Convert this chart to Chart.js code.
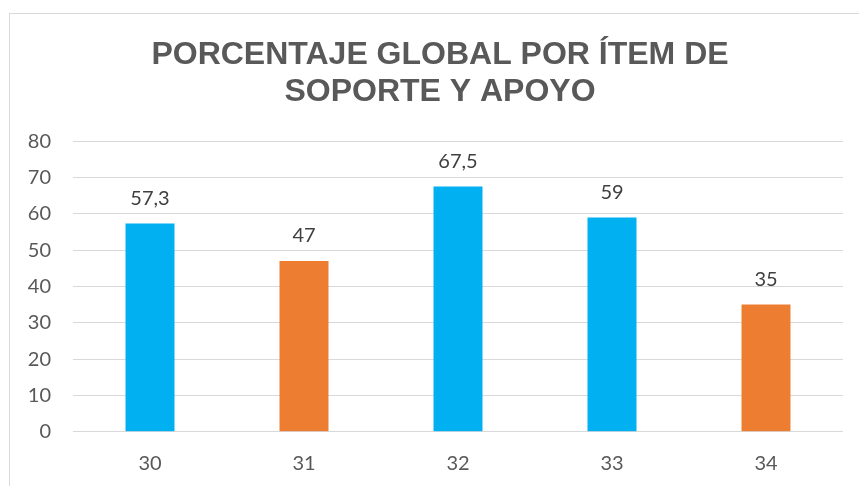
<!DOCTYPE html>
<html>
<head>
<meta charset="utf-8">
<script src="https://cdn.jsdelivr.net/npm/chart.js@4/dist/chart.umd.min.js"></script>
<style>
  html, body { margin: 0; padding: 0; background: #ffffff; overflow: hidden; }
  #frame { position: absolute; left: 9px; top: 13px; width: 900px; height: 520px; border: 1px solid #d9d9d9; box-sizing: border-box; }
  #wrap { position: absolute; left: 0; top: 0; width: 859px; height: 486px; }
</style>
</head>
<body>
<div id="frame"></div>
<div id="wrap"><canvas id="c" width="859" height="486"></canvas></div>
<script>
const categories = ["30", "31", "32", "33", "34"];
const values = [57.3, 47, 67.5, 59, 35];
const barColors = ["#00B0F0", "#ED7D31", "#00B0F0", "#00B0F0", "#ED7D31"];
const yTicks = [0, 10, 20, 30, 40, 50, 60, 70, 80];
const titleLines = ["PORCENTAJE GLOBAL POR ÍTEM DE", "SOPORTE Y APOYO"];

const labelPlugin = {
  id: 'valueLabels',
  afterDatasetsDraw(chart) {
    const ctx = chart.ctx;
    const meta = chart.getDatasetMeta(0);
    ctx.save();
    ctx.font = '20px Lato';
    ctx.fillStyle = '#404040';
    ctx.textAlign = 'center';
    ctx.textBaseline = 'middle';
    meta.data.forEach((bar, i) => {
      const txt = String(values[i]).replace('.', ',');
      ctx.fillText(txt, bar.x, bar.y - 25);
    });
    ctx.restore();
  }
};

const titlePlugin = {
  id: 'placedTitle',
  afterDraw(chart) {
    const ctx = chart.ctx;
    ctx.save();
    ctx.font = 'bold 32px "Liberation Sans"';
    ctx.fillStyle = '#595959';
    ctx.textAlign = 'center';
    ctx.textBaseline = 'alphabetic';
    const baselines = [64, 101];
    titleLines.forEach((line, i) => ctx.fillText(line, 440, baselines[i]));
    ctx.restore();
  }
};

new Chart(document.getElementById('c'), {
  type: 'bar',
  data: {
    labels: categories,
    datasets: [{
      data: values,
      backgroundColor: barColors,
      borderWidth: 0,
      categoryPercentage: 1.0,
      barPercentage: 0.318
    }]
  },
  options: {
    responsive: false,
    animation: false,
    layout: { padding: { left: 0, right: 16, top: 0, bottom: 0 } },
    plugins: {
      legend: { display: false },
      tooltip: { enabled: false },
      title: {
        display: true,
        text: titleLines,
        color: 'rgba(0,0,0,0)',
        font: { family: 'Liberation Sans', size: 28, weight: 'bold', lineHeight: 1.36 },
        padding: { top: 35, bottom: 30 }
      }
    },
    scales: {
      x: {
        grid: { display: false, drawTicks: false },
        border: { display: false },
        ticks: { color: '#595959', font: { family: 'Lato', size: 20 }, padding: 20 },
        afterFit(scale) { scale.height = 54.3; }
      },
      y: {
        min: 0, max: 80,
        afterBuildTicks(scale) { scale.ticks = yTicks.map(v => ({ value: v })); },
        grid: { color: '#d9d9d9', lineWidth: 1, drawTicks: false },
        border: { display: false },
        ticks: { color: '#595959', font: { family: 'Lato', size: 20 }, padding: 22 },
        afterFit(scale) { scale.width = 73; }
      }
    }
  },
  plugins: [labelPlugin, titlePlugin]
});
</script>
</body>
</html>
